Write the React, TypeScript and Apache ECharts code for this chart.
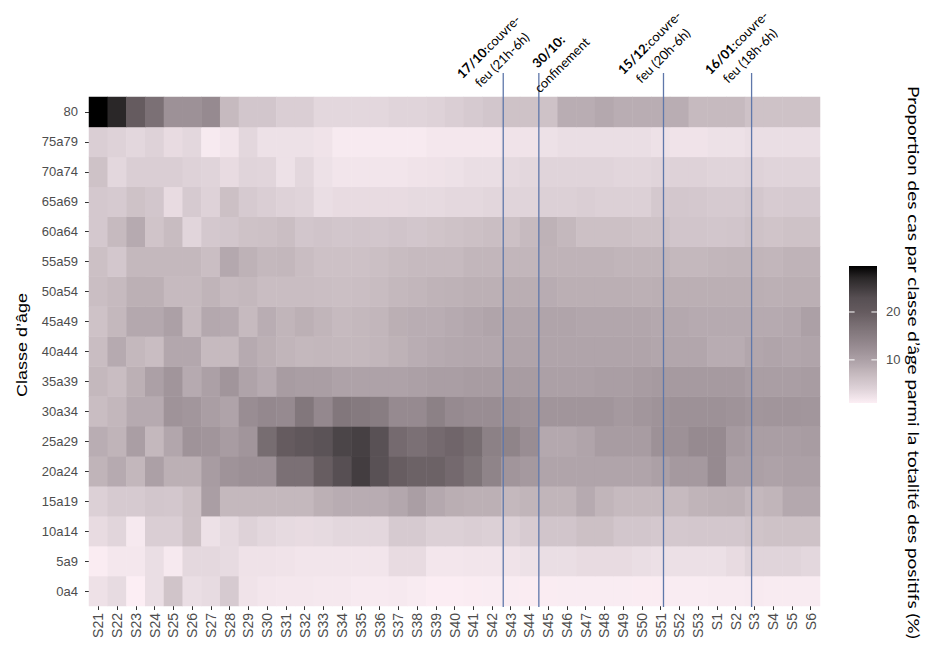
import React, { useEffect, useRef } from "react";
import * as echarts from "echarts";

// Weekly share of positive cases by age class (%), weeks S21 (2020) to S6 (2021)
const weeks = [
  "S21", "S22", "S23", "S24", "S25", "S26", "S27", "S28", "S29", "S30",
  "S31", "S32", "S33", "S34", "S35", "S36", "S37", "S38", "S39", "S40",
  "S41", "S42", "S43", "S44", "S45", "S46", "S47", "S48", "S49", "S50",
  "S51", "S52", "S53", "S1", "S2", "S3", "S4", "S5", "S6",
];

const ageClasses = [
  "0a4", "5a9", "10a14", "15a19", "20a24", "25a29", "30a34", "35a39", "40a44",
  "45a49", "50a54", "55a59", "60a64", "65a69", "70a74", "75a79", "80",
];

const share0a4 = [2.4, 3.1, 1, 2.8, 5.8, 2.8, 3.1, 5, 2.2, 1.9, 1.8, 1.8, 1.7, 1.7, 1.5, 1.5, 1.6, 1.4, 1.1, 1.1, 1.2, 1.3, 1.3, 1.2, 1.2, 1.3, 1.3, 1.3, 1.3, 1.2, 1.2, 1.3, 1.3, 1.4, 1.4, 1.5, 1.4, 1.4, 1.4];
const share5a9 = [1.2, 1.8, 1.8, 2.8, 1.6, 3.4, 3.4, 3.1, 2.3, 2.3, 2.2, 2, 2, 2, 2, 2, 3, 3, 1.9, 1.9, 2, 2, 2.2, 2.5, 2.8, 2.8, 3, 3, 3, 2.8, 2.6, 2.6, 2.6, 2.6, 3, 3.8, 3.8, 3.8, 3.5];
const share10a14 = [3, 3.7, 1.6, 4.5, 4.5, 6.2, 2.5, 3.2, 4, 3.5, 3.2, 3, 3.2, 3.5, 3.5, 3.5, 5, 5, 4.3, 4.3, 4.5, 4.3, 4.3, 4.8, 5.6, 5.6, 6.3, 6.3, 5.5, 5.5, 5.2, 5.2, 5.3, 5.3, 5.3, 5.8, 6, 6, 6];
const share15a19 = [4.2, 5, 5, 5.5, 5.3, 6.3, 10.3, 7.2, 7.2, 7.2, 7.2, 7.2, 8.2, 8.6, 8.6, 8.6, 9.2, 10.2, 9, 8.4, 8.2, 8.2, 7.3, 7.6, 7.6, 7.6, 8.8, 7.6, 7, 7, 7, 7, 7.7, 8, 8.1, 7.3, 7.6, 9, 9];
const share20a24 = [7.7, 8.8, 7.4, 10, 8.2, 8.2, 10.5, 11.8, 12.2, 12.2, 17, 17, 19.8, 22.8, 24.8, 22.3, 19.7, 19, 19, 18, 16.5, 14, 11.5, 11, 9.5, 9.5, 9.5, 9.5, 9.5, 9.5, 10, 11, 11, 13, 10, 10, 9.8, 10, 10];
const share25a29 = [8.5, 7.7, 10.2, 7.2, 9.3, 11.8, 11.5, 10.5, 11.4, 17.5, 20, 21, 22, 24, 24.5, 22.5, 17.8, 17, 17.8, 18.5, 17.5, 14.5, 14, 12.5, 9, 9, 9.5, 10.5, 10.5, 10.5, 12, 12, 13, 13, 10.8, 10.3, 10.3, 10.3, 10.5];
const share30a34 = [6.6, 7.4, 8.8, 8.8, 11.7, 11.3, 10.2, 9.7, 12.5, 13.2, 13, 16, 13.2, 16, 15.5, 15, 13, 13, 14.5, 13, 12.5, 12.5, 12, 11.8, 11.5, 11.5, 11.5, 11.5, 11, 11.3, 11.8, 12, 12, 12, 11.8, 11.3, 11.5, 11.5, 11.3];
const share35a39 = [7.2, 6.6, 8.2, 10, 11.5, 8.8, 10, 11.5, 9.6, 8.8, 10.5, 10.2, 10.2, 9.8, 9.8, 9.8, 9.8, 10, 10.2, 10.3, 10.5, 10.5, 10.5, 10.5, 10, 10, 10, 10.3, 10.3, 10.5, 10.8, 10.8, 10.8, 10.8, 10.8, 10.3, 10.3, 10.2, 10.5];
const share40a44 = [6.7, 8.8, 7.3, 6.6, 9.2, 9.2, 7, 7, 8.8, 8.2, 7.6, 7.2, 7.4, 7.2, 7.2, 7.5, 8, 8.5, 8.8, 9, 9.2, 9.2, 9.5, 9.5, 9.5, 9.5, 9.5, 9.5, 9.5, 9.5, 9.3, 9.3, 9.3, 8.6, 8.6, 9.3, 9.5, 9.3, 9.5];
const share45a49 = [6, 7.3, 9, 9, 10, 7, 9, 8.8, 7, 8.5, 7.6, 8.2, 7.6, 7, 7.2, 7.5, 8.3, 8.5, 8.5, 8.8, 9.2, 9.5, 9.3, 9.3, 9.5, 9.5, 9.3, 9.3, 9.3, 9.3, 9, 9, 8.8, 8.8, 8.8, 8.8, 8.8, 9, 10];
const share50a54 = [6.5, 7, 8.2, 8.2, 7, 7, 7.7, 7, 7.3, 6.6, 6.6, 6.6, 6.5, 6.4, 6.5, 6.8, 7.2, 7.5, 7.8, 8, 8.2, 8.2, 8.4, 8.4, 8.6, 8.3, 8.3, 8.3, 8.3, 8.2, 8.3, 8.3, 8.3, 8.3, 8.3, 8.3, 8.2, 8.3, 8.3];
const share55a59 = [6.3, 5.3, 7.3, 7.3, 7.3, 7.3, 6.5, 9, 8, 7.3, 7.4, 6.6, 6.2, 6.2, 6.2, 6.4, 6.8, 7, 7, 7, 7.5, 7.5, 7.5, 7.5, 7.8, 7.8, 7.8, 7.8, 7.6, 7.6, 7.6, 7.3, 7.3, 7.5, 7.6, 7.6, 7.5, 7.8, 7.8];
const share60a64 = [5.2, 7, 8.8, 5.8, 6.8, 3.7, 5.2, 5.5, 6, 6.2, 6.5, 5.5, 5.7, 5.5, 5.6, 5.4, 5.7, 5.5, 5.8, 6, 6.3, 6.5, 6.3, 7, 8, 7.3, 6.3, 6.3, 6.3, 6, 6, 5.6, 5.6, 5.5, 5.6, 6, 5.8, 6, 6];
const share65a69 = [5.2, 5, 6, 5.5, 3, 5, 4, 6.3, 5, 4.5, 4, 3.8, 2.8, 3, 3, 3, 3, 3.2, 3.2, 3.4, 3.4, 3.6, 3.8, 3.8, 4.2, 4.2, 4.5, 4.3, 4.2, 4.2, 5.2, 5.3, 5.2, 5, 5, 5.3, 4.8, 5, 5];
const share70a74 = [6, 3.5, 4.5, 4.5, 4.5, 4, 3.8, 3, 3.8, 3.7, 2.5, 3.5, 2.5, 2, 2, 2, 2, 2.2, 2.3, 2.5, 2.8, 2.8, 3.3, 3.5, 3.8, 3.8, 3.8, 3.8, 3.6, 3.6, 3.8, 4, 4, 3.8, 3.8, 4, 3.8, 3.8, 3.8];
const share75a79 = [4.5, 4, 3.5, 4, 3, 3.5, 1.5, 2, 3.5, 2.5, 2.5, 2.5, 2.2, 1.5, 1.5, 1.5, 1.5, 1.5, 1.8, 1.8, 1.8, 1.8, 2.2, 2.2, 2.5, 2.8, 2.8, 2.8, 2.8, 2.8, 2.5, 2.2, 2.2, 2.5, 2.5, 2.8, 2.8, 2.8, 2.8];
const share80 = [29.6, 27, 20, 17, 12, 12, 13, 7, 5.5, 5.5, 4.5, 4.5, 3.5, 3.5, 3.5, 3.5, 3.8, 3.8, 4, 4.5, 5, 5.5, 6, 6, 6, 8.5, 8.5, 9, 8.5, 8.5, 8.5, 8.5, 7, 7, 7, 6, 6, 6, 6];

const sharesByClass = [
  share0a4, share5a9, share10a14, share15a19, share20a24, share25a29, share30a34,
  share35a39, share40a44, share45a49, share50a54, share55a59, share60a64,
  share65a69, share70a74, share75a79, share80,
];

// Colour scale bounds and legend ticks
const scaleMin = 1;
const scaleMax = 29.6;
const legendTicks = [10, 20];

// Sanitary measures, positioned in week units from the left edge of S21
const eventPositions = [22.1, 24.0, 30.65, 35.35];
const eventDates = ["17/10", "30/10:", "15/12", "16/01"];
const eventTexts = [":couvre-\nfeu (21h-6h)", "\nconfinement", ":couvre-\nfeu (20h-6h)", ":couvre-\nfeu (18h-6h)"];

// Label anchors (centre of each rotated text block)
const eventLabelAnchors: [number, number][] = [
  [495, 53],
  [555, 58],
  [656, 49],
  [743, 49],
];

const rampStops: [number, string][] = [
  [1, "#fceef4"],
  [2, "#f2e5eb"],
  [4, "#ded2d8"],
  [7, "#c6babf"],
  [10, "#aca0a6"],
  [13, "#968a90"],
  [16, "#82777c"],
  [20, "#655b5f"],
  [23, "#564e52"],
  [27, "#2b2829"],
  [29.6, "#000000"],
];

function hexToRgb(h: string): number[] {
  const n = parseInt(h.slice(1), 16);
  return [(n >> 16) & 255, (n >> 8) & 255, n & 255];
}

function rampColor(v: number): string {
  if (v <= rampStops[0][0]) return rampStops[0][1];
  for (let i = 1; i < rampStops.length; i++) {
    const [v1, c1] = rampStops[i];
    if (v <= v1) {
      const [v0, c0] = rampStops[i - 1];
      const t = (v - v0) / (v1 - v0);
      const a = hexToRgb(c0);
      const b = hexToRgb(c1);
      const m = a.map((x, k) => Math.round(x + (b[k] - x) * t));
      return `rgb(${m[0]},${m[1]},${m[2]})`;
    }
  }
  return rampStops[rampStops.length - 1][1];
}

const PALETTE_STEPS = 120;
const palette = Array.from({ length: PALETTE_STEPS }, (_, i) =>
  rampColor(scaleMin + ((scaleMax - scaleMin) * i) / (PALETTE_STEPS - 1))
);

const GRID = { left: 89, top: 97, width: 731, height: 509 };
const BAR = { x: 849, y: 266, w: 28, h: 137 };

const axisFont = "Liberation Sans, Arial, sans-serif";
const noteFont = "Lato, 'Open Sans', sans-serif";
const NOTE_SIZE = 13;
const NOTE_LINE = 19;

function buildOption() {
  const cells: number[][] = [];
  sharesByClass.forEach((row, yi) => {
    row.forEach((v, xi) => cells.push([xi, yi, v]));
  });

  const lineSeries = eventPositions.map((pos) => ({
    type: "line",
    xAxisIndex: 1,
    yAxisIndex: 1,
    data: [
      [pos, -0.03],
      [pos, 17.8],
    ],
    clip: false,
    symbol: "none",
    silent: true,
    lineStyle: { color: "#5f77aa", width: 1.3 },
    z: 5,
  }));

  const yOf = (v: number) => BAR.y + ((scaleMax - v) / (scaleMax - scaleMin)) * BAR.h;

  const gradStops = palette.map((c, i) => ({ offset: 1 - i / (PALETTE_STEPS - 1), color: c })).reverse();

  const legendGraphics: any[] = [
    {
      type: "rect",
      shape: { x: BAR.x, y: BAR.y, width: BAR.w, height: BAR.h },
      style: { fill: new echarts.graphic.LinearGradient(0, 0, 0, 1, gradStops) },
    },
  ];
  legendTicks.forEach((t) => {
    const y = yOf(t);
    legendGraphics.push(
      { type: "line", shape: { x1: BAR.x, y1: y, x2: BAR.x + BAR.w / 5, y2: y }, style: { stroke: "#ffffff", lineWidth: 1 } },
      { type: "line", shape: { x1: BAR.x + (BAR.w * 4) / 5, y1: y, x2: BAR.x + BAR.w, y2: y }, style: { stroke: "#ffffff", lineWidth: 1 } },
      {
        type: "text",
        x: BAR.x + BAR.w + 9,
        y,
        style: { text: String(t), fill: "#4d4d4d", fontSize: 13, fontFamily: axisFont, align: "left", verticalAlign: "middle" },
      }
    );
  });

  const noteGraphics = eventDates.map((d, i) => {
    const [x, y] = eventLabelAnchors[i];
    const [first, second] = eventTexts[i].split("\n");
    const text = first ? `{b|${d}}{n|${first}}\n{n|${second}}` : `{b|${d}}\n{n|${second}}`;
    const token = { fontSize: NOTE_SIZE, fontFamily: noteFont, fill: "#000", align: "center", lineHeight: NOTE_LINE };
    return {
      type: "text",
      x,
      y,
      rotation: Math.PI / 4,
      z: 10,
      style: {
        text,
        align: "center",
        verticalAlign: "middle",
        fill: "#000",
        fontSize: NOTE_SIZE,
        fontFamily: noteFont,
        lineHeight: NOTE_LINE,
        rich: {
          b: { ...token, fontWeight: "bold" },
          n: { ...token, fontWeight: "normal" },
        },
      },
    };
  });

  return {
    animation: false,
    backgroundColor: "#ffffff",
    grid: { ...GRID, containLabel: false },
    xAxis: [
      {
        type: "category",
        data: weeks,
        axisLine: { show: false },
        axisTick: { show: true, alignWithLabel: true, interval: 0, length: 4, lineStyle: { color: "#333333" } },
        axisLabel: { interval: 0, rotate: 90, fontSize: 14, color: "#4d4d4d", fontFamily: axisFont, margin: 7 },
        splitLine: { show: false },
      },
      { type: "value", min: 0, max: 39, show: false },
    ],
    yAxis: [
      {
        type: "category",
        data: ageClasses,
        axisLine: { show: false },
        axisTick: { show: true, alignWithLabel: true, interval: 0, length: 4, lineStyle: { color: "#333333" } },
        axisLabel: { interval: 0, fontSize: 13, color: "#4d4d4d", fontFamily: axisFont, margin: 11 },
        splitLine: { show: false },
      },
      { type: "value", min: 0, max: 17, show: false },
    ],
    visualMap: {
      show: false,
      type: "continuous",
      min: scaleMin,
      max: scaleMax,
      dimension: 2,
      seriesIndex: 0,
      inRange: { color: palette },
    },
    series: [
      {
        type: "heatmap",
        data: cells,
        itemStyle: { borderWidth: 0 },
        emphasis: { disabled: true },
        silent: true,
      },
      ...lineSeries,
    ],
    graphic: [
      {
        type: "text",
        x: 22,
        y: 345,
        rotation: Math.PI / 2,
        scaleX: 1.2,
        style: { text: "Classe d’âge", fill: "#000", fontSize: 15, fontFamily: axisFont, align: "center", verticalAlign: "middle" },
      },
      {
        type: "text",
        x: 914,
        y: 86,
        rotation: -Math.PI / 2,
        scaleX: 1.185,
        style: {
          text: "Proportion des cas par classe d’âge parmi la totalité des positifs (%)",
          fill: "#000",
          fontSize: 16,
          fontFamily: noteFont,
          align: "left",
          verticalAlign: "middle",
        },
      },
      ...legendGraphics,
      ...noteGraphics,
    ],
  };
}

export default function App() {
  const ref = useRef<HTMLDivElement>(null);
  useEffect(() => {
    if (!ref.current) return;
    const chart = echarts.init(ref.current, undefined, { renderer: "svg" });
    chart.setOption(buildOption() as any);
    return () => chart.dispose();
  }, []);
  return (
    <div
      ref={ref}
      style={{ position: "absolute", left: 0, top: 0, width: 940, height: 646, background: "#fff" }}
    />
  );
}
